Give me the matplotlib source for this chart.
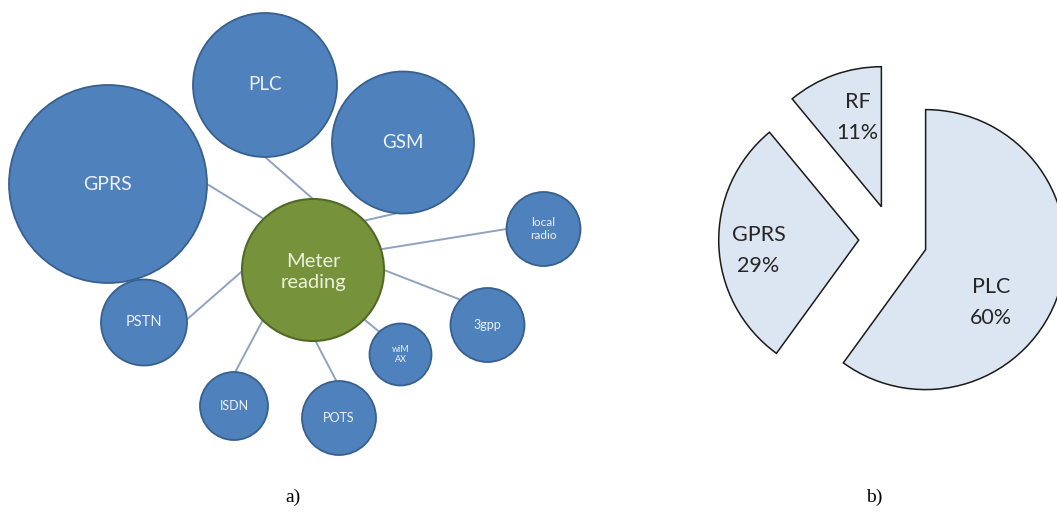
import numpy as np
import matplotlib
matplotlib.use("Agg")
import matplotlib.pyplot as plt
from matplotlib.patches import Circle

# ---- data: bubble diagram (a) ----
hub_label = "Meter\nreading"
hub_x, hub_y, hub_r = 313, 270, 71

node_labels = ["GPRS", "PLC", "GSM", "local\nradio", "3gpp", "wiM\nAX", "POTS", "ISDN", "PSTN"]
node_x = [108, 265, 403, 543.5, 487.5, 400.5, 339, 234, 144]
node_y = [184, 85, 142.5, 229, 325, 354.5, 418, 406, 322.5]
node_r = [99, 72, 71, 37, 37, 31, 37, 34, 43]
node_fs = [14, 13.5, 13.5, 8.5, 9, 6.5, 9, 9, 10.5]
# connector attachment angles (degrees, y-up) on the hub and on each node
hub_angle = [134, 90, 44, 17, 0, -44, -88, 225, 181]
node_angle = [0, -90, -95, 180, 137, 133, 94, 88, 4]

# ---- data: pie chart (b) ----
pie_labels = ["RF", "GPRS", "PLC"]
pie_values = [11, 29, 60]
pie_text_angle = [105, 186, 321]
pie_text_dist = [0.66, 0.72, 0.60]

captions = ["a)", "b)"]

W, H = 1057, 521
fig = plt.figure(figsize=(W / 100, H / 100), dpi=100)
ax = fig.add_axes([0, 0, 1, 1])
ax.set_xlim(0, W)
ax.set_ylim(H, 0)
ax.axis("off")

blue_face, blue_edge = "#4f81bd", "#38608f"
green_face, green_edge = "#76933c", "#506a26"
line_col = "#8fa3bf"

# connectors
for hx_a, nx, ny, nr, na in zip(hub_angle, node_x, node_y, node_r, node_angle):
    a1, a2 = np.radians(hx_a), np.radians(na)
    x1 = hub_x + hub_r * np.cos(a1)
    y1 = hub_y - hub_r * np.sin(a1)
    x2 = nx + nr * np.cos(a2)
    y2 = ny - nr * np.sin(a2)
    ax.plot([x1, x2], [y1, y2], color=line_col, lw=1.4, zorder=1,
            solid_capstyle="butt")

for lab, x, y, r, fs in zip(node_labels, node_x, node_y, node_r, node_fs):
    ax.add_patch(Circle((x, y), r, facecolor=blue_face, edgecolor=blue_edge,
                        lw=1.3, zorder=2))
    ax.text(x, y, lab, ha="center", va="center", color="#eef2f8",
            fontsize=fs, family="Lato", zorder=3, linespacing=1.25)

ax.add_patch(Circle((hub_x, hub_y), hub_r, facecolor=green_face,
                    edgecolor=green_edge, lw=1.5, zorder=2))
ax.text(hub_x, hub_y + 2, hub_label, ha="center", va="center", color="#eef0dc",
        fontsize=14.5, family="Lato", zorder=3, linespacing=1.35)

# captions
ax.text(293, 497, captions[0], ha="center", va="center", fontsize=14,
        family="Liberation Serif", color="black")
ax.text(874, 497, captions[1], ha="center", va="center", fontsize=14,
        family="Liberation Serif", color="black")

# pie axes: centre at (893, 239) px, radius 140 px
cx, cy, R = 893, 239, 140
span = 1.6
wpx = 2 * span * R
ax2 = fig.add_axes([(cx - wpx / 2) / W, (H - cy - wpx / 2) / H, wpx / W, wpx / H])
ax2.set_xlim(-span, span)
ax2.set_ylim(-span, span)
ax2.set_aspect("equal")
ax2.axis("off")
wedges, _ = ax2.pie(pie_values, explode=[0.245] * 3, startangle=90,
                    counterclock=True, radius=1,
                    colors=["#dce6f2"] * 3,
                    wedgeprops=dict(edgecolor="#1a1a1a", linewidth=1.1))
for w, lab, v, ang, d in zip(wedges, pie_labels, pie_values, pie_text_angle, pie_text_dist):
    ccx, ccy = w.center
    a = np.radians(ang)
    ax2.text(ccx + d * np.cos(a), ccy + d * np.sin(a), f"{lab}\n{v}%",
             ha="center", va="center", fontsize=15.5, family="Lato",
             color="#262626", linespacing=1.7)
ax2.set_xlim(-span, span)
ax2.set_ylim(-span, span)

fig.savefig("out.png", dpi=100)
